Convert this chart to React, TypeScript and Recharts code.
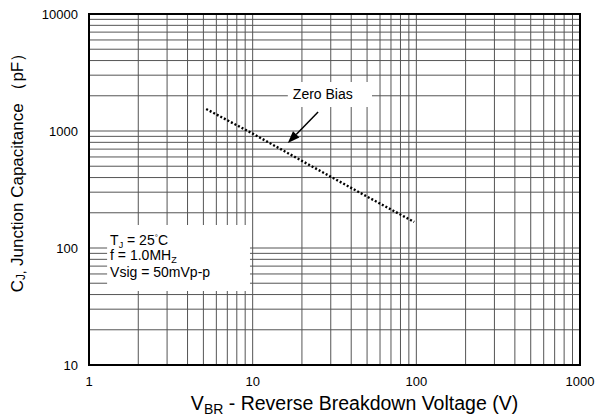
import { LineChart, Line, XAxis, YAxis, CartesianGrid, ReferenceLine, ReferenceArea } from 'recharts'

// reverse voltage (V) vs junction capacitance (pF), zero bias curve
const vbr = [5.2, 10, 20, 50, 97]
const cj = [1540, 950, 555, 275, 167]
const data = vbr.map((v, i) => ({ v, c: cj[i] }))

const xTicks = [1, 10, 100, 1000]
const yTicks = [10, 100, 1000, 10000]
const xGrid = [2, 3, 4, 5, 6, 7, 8, 9, 10, 20, 30, 40, 50, 60, 70, 80, 90, 100, 200, 300, 400, 500, 600, 700, 800, 900]
const yGrid = [20, 30, 40, 50, 60, 70, 80, 90, 100, 200, 300, 400, 500, 600, 700, 800, 900, 1000, 2000, 3000, 4000, 5000, 6000, 7000, 8000, 9000]

const font = 'Arial, "Liberation Sans", Helvetica, sans-serif'
const grid = '#555'

// log position inside the plot box, used only for the minor grid
const logPos = (v: number, lo: number, hi: number) => (Math.log10(v) - Math.log10(lo)) / (Math.log10(hi) - Math.log10(lo))

function Arrow(p: any) {
  const { x1, y1, x2, y2 } = p
  const ang = Math.atan2(y2 - y1, x2 - x1)
  const len = 12, half = 4.5
  const bx = x2 - len * Math.cos(ang), by = y2 - len * Math.sin(ang)
  const nx = -Math.sin(ang) * half, ny = Math.cos(ang) * half
  return (
    <g>
      <line x1={x1} y1={y1} x2={bx} y2={by} stroke="#000" strokeWidth={1.5} />
      <polygon points={`${x2},${y2} ${bx + nx},${by + ny} ${bx - nx},${by - ny}`} fill="#000" />
    </g>
  )
}

function CondText({ viewBox }: any) {
  const x = viewBox.x + 3
  const y = viewBox.y
  return (
    <text fontFamily={font} fontSize={14} fill="#000">
      <tspan x={x} y={y + 20}>T<tspan fontSize={9} dy={3}>J</tspan><tspan dy={-3}> = 25</tspan><tspan fontSize={8} dy={-5}>°</tspan><tspan dy={5}>C</tspan></tspan>
      <tspan x={x} y={y + 35}>f = 1.0MH<tspan fontSize={9} dy={3}>Z</tspan></tspan>
      <tspan x={x} y={y + 52}>Vsig = 50mVp-p</tspan>
    </text>
  )
}

function XTitle({ viewBox }: any) {
  const cx = viewBox.x + viewBox.width / 2 + 20
  return (
    <text x={cx} y={viewBox.y + 45} textAnchor="middle" fontFamily={font} fontSize={19.5} fill="#000">
      V<tspan fontSize={14} dy={4}>BR</tspan><tspan dy={-4}> - Reverse Breakdown Voltage (V)</tspan>
    </text>
  )
}

function YTitle({ viewBox }: any) {
  const cx = 17
  const cy = viewBox.y + viewBox.height / 2 - 21
  return (
    <text x={cx} y={cy} transform={`rotate(-90 ${cx} ${cy})`} textAnchor="middle" dominantBaseline="central" fontFamily={font} fontSize={17} fill="#000">
      C<tspan fontSize={12} dy={4}>J,</tspan><tspan dy={-4}> Junction  Capacitance （pF）</tspan>
    </text>
  )
}

export default function App() {
  return (
    <div style={{ position: 'fixed', left: 0, top: 0, width: 598, height: 419, background: '#fff', fontFamily: font }}>
      <LineChart width={598} height={419} data={data} margin={{ top: 14, right: 18, left: 19, bottom: 4 }}>
        <CartesianGrid stroke={grid} strokeWidth={1}
          verticalCoordinatesGenerator={({ offset }: any) => xGrid.map(v => offset.left + logPos(v, 1, 1000) * offset.width)}
          horizontalCoordinatesGenerator={({ offset }: any) => yGrid.map(v => offset.top + (1 - logPos(v, 10, 10000)) * offset.height)} />
        <ReferenceArea x1={1.29} x2={9.63} y1={42.9} y2={157} fill="#fff" fillOpacity={1} stroke="none" label={<CondText />} />
        <ReferenceArea x1={16.4} x2={53.6} y1={1603} y2={2623} fill="#fff" fillOpacity={1} stroke="none"
          label={{ value: 'Zero Bias', position: 'insideLeft', offset: 5, fontSize: 14, fill: '#000', fontFamily: font }} />
        <ReferenceLine segment={[{ x: 25.1, y: 1453 }, { x: 16.4, y: 789 }]} shape={<Arrow />} />
        <XAxis dataKey="v" type="number" scale="log" domain={[1, 1000]} ticks={xTicks} allowDataOverflow
          height={50} tickLine={false} tickMargin={6} axisLine={{ stroke: '#000', strokeWidth: 2 }}
          tick={{ fill: '#000', fontSize: 13, fontFamily: font }} label={<XTitle />} />
        <YAxis dataKey="c" type="number" scale="log" domain={[10, 10000]} ticks={yTicks} allowDataOverflow
          width={70} tickLine={false} tickMargin={5} axisLine={{ stroke: '#000', strokeWidth: 2 }}
          tick={{ fill: '#000', fontSize: 13, fontFamily: font }} label={<YTitle />} />
        <Line dataKey="c" type="linear" stroke="#000" strokeWidth={2.4} strokeDasharray="2 2" dot={false} isAnimationActive={false} />
        <ReferenceArea x1={1} x2={1000} y1={10} y2={10000} fill="none" stroke="#000" strokeWidth={2} />
      </LineChart>
    </div>
  )
}
